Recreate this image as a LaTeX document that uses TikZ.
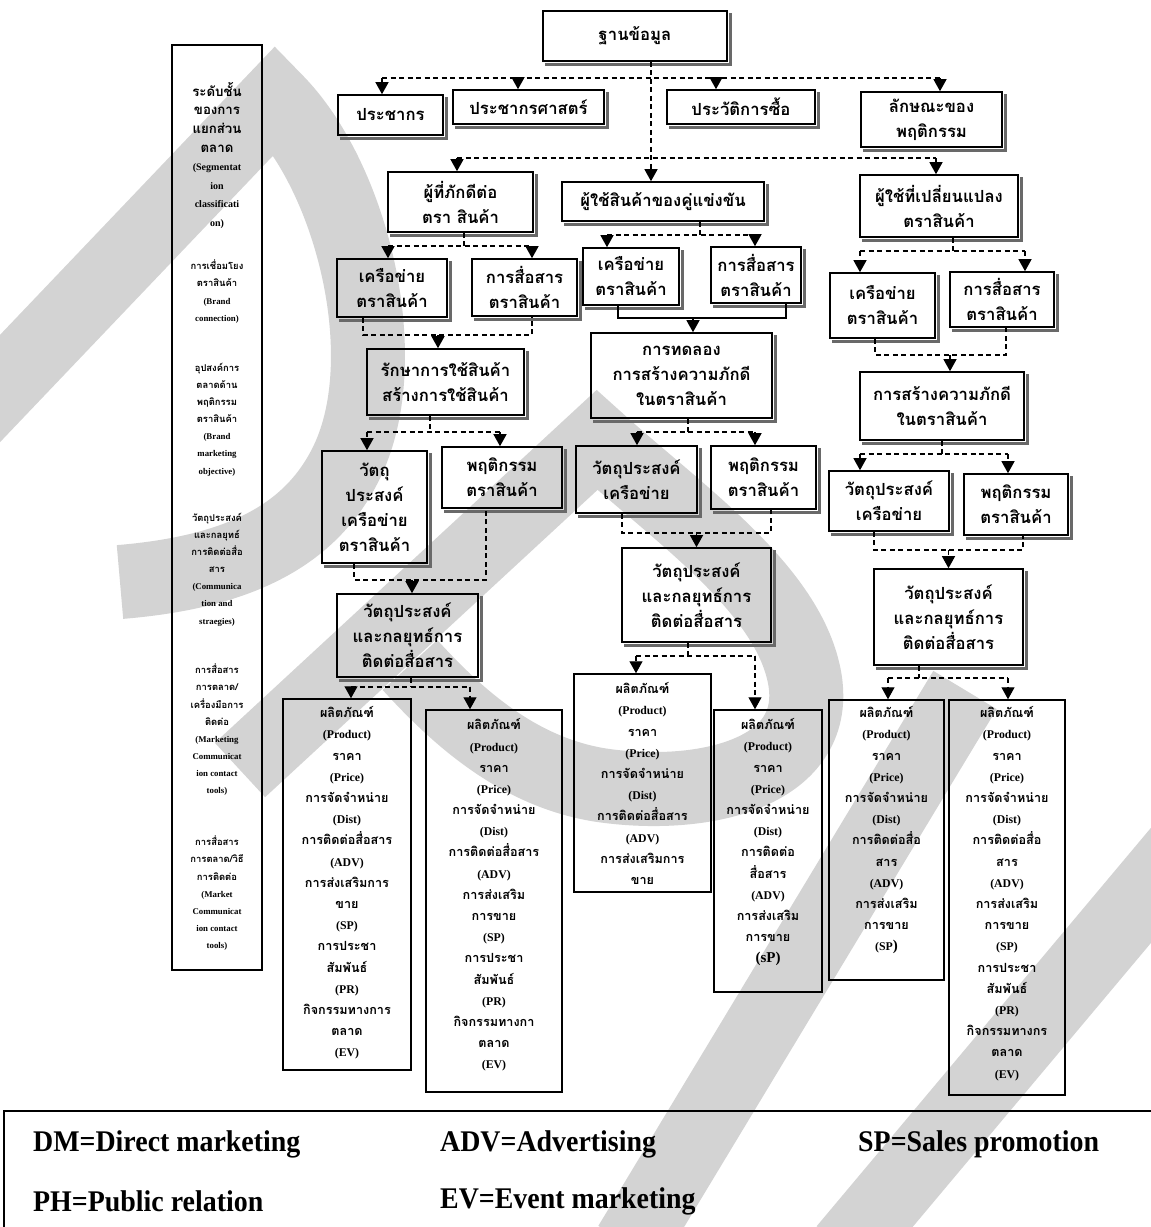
\documentclass[tikz,border=0pt]{standalone}
\usepackage{fontspec}
\setmainfont{Liberation Serif}
\newfontfamily\thf[Script=Thai,Scale=1.07]{Loma}
\usetikzlibrary{arrows.meta}
\definecolor{wm}{RGB}{211,211,211}
\definecolor{shd}{RGB}{105,105,105}
\newcommand{\thl}[1]{{\thf #1}}
\newcommand{\thb}[1]{{\fontsize{12.4}{18.6}\selectfont\thf #1}}
% parent -> two children through a dashed bus
\newcommand{\forktwo}[7]{%
  \coordinate (jj) at (0,#3);
  \draw[dl] ([xshift=#2pt]#1.south) -- ([xshift=#2pt]#1.south |- jj);
  \draw[dl] ([xshift=#5pt]#4.north |- jj) -- ([xshift=#7pt]#6.north |- jj);
  \draw[dl,arr] ([xshift=#5pt]#4.north |- jj) -- ([xshift=#5pt]#4.north);
  \draw[dl,arr] ([xshift=#7pt]#6.north |- jj) -- ([xshift=#7pt]#6.north);}
% two parents -> one child
\newcommand{\mergetwo}[8]{%
  \coordinate (jj) at (0,#5);
  \draw[#8] ([xshift=#2pt]#1.south) -- ([xshift=#2pt]#1.south |- jj) -- ([xshift=#4pt]#3.south |- jj) -- ([xshift=#4pt]#3.south);
  \draw[#8,arr] ([xshift=#7pt]#6.north |- jj) -- ([xshift=#7pt]#6.north);}
\begin{document}
\begin{tikzpicture}[x=1pt,y=-1pt,
  box/.style={draw=black, line width=1.6pt, inner sep=0pt, align=center,
    font=\thf\bfseries\fontsize{15.6}{25}\selectfont},
  plain/.style={draw=black, line width=1.5pt, inner sep=0pt},
  btxt/.style={inner sep=0pt, align=center, anchor=north,
    font=\bfseries\fontsize{11.8}{21.2}\selectfont},
  ctxta/.style={inner sep=0pt, align=center, anchor=north,
    font=\bfseries\fontsize{10}{18.6}\selectfont},
  ctxt/.style={inner sep=0pt, align=center, anchor=north,
    font=\bfseries\fontsize{8.8}{17.1}\selectfont},
  leg/.style={inner sep=0pt, anchor=west, font=\bfseries\fontsize{30}{30}\selectfont},
  dl/.style={line width=1.3pt, dash pattern=on 5pt off 3.5pt},
  sl/.style={line width=1.3pt},
  arr/.style={-{Triangle[width=13pt,length=12pt]}},
  shadowline/.style={draw=shd, line width=3pt},
  band/.style={draw=wm, line width=74pt, line join=miter},
]
\useasboundingbox (0,0) rectangle (1151,1227);
\fill[white] (0,0) rectangle (1151,1227);

% watermark bands
\draw[band] (-30,420) -- (275,100) .. controls (350,175) and (395,350) .. (350,455)
  .. controls (315,535) and (240,572) .. (120,582);
\draw[band] (240,770) -- (597,440) .. controls (680,515) and (790,590) .. (805,680)
  .. controls (820,775) and (700,800) .. (600,785) .. controls (520,772) and (460,720) .. (410,665);
\draw[band] (965,690) -- (630,1245);
\draw[band] (1210,815) -- (845,1250);

% level column
\node[plain, line width=1.7pt, minimum width=90pt, minimum height=925pt] (col) at (217,507.5) {};
\node[ctxta] (c1) at (217,82) {\thb{ระดับชั้น}\\\thb{ของการ}\\\thb{แยกส่วน}\\\thb{ตลาด}\\(Segmentat\\ion\\classificati\\on)};
\node[ctxt] (c2) at (217,260) {\thl{การเชื่อมโยง}\\\thl{ตราสินค้า}\\(Brand\\connection)};
\node[ctxt] (c3) at (217,363) {\thl{อุปสงค์การ}\\\thl{ตลาดด้าน}\\\thl{พฤติกรรม}\\\thl{ตราสินค้า}\\(Brand\\marketing\\objective)};
\node[ctxt] (c4) at (217,513) {\thl{วัตถุประสงค์}\\\thl{และกลยุทธ์}\\\thl{การติดต่อสื่อ}\\\thl{สาร}\\(Communica\\tion and\\straegies)};
\node[ctxt] (c5) at (217,664) {\thl{การสื่อสาร}\\\thl{การตลาด/}\\\thl{เครื่องมือการ}\\\thl{ติดต่อ}\\(Marketing\\Communicat\\ion contact\\tools)};
\node[ctxt] (c6) at (217,836) {\thl{การสื่อสาร}\\\thl{การตลาด/วิธี}\\\thl{การติดต่อ}\\(Market\\Communicat\\ion contact\\tools)};

% upper boxes
\node[box, minimum width=184pt, minimum height=50pt] (db) at (635,36) {ฐานข้อมูล};
\node[box, minimum width=105pt, minimum height=40pt] (pop) at (390.5,115) {ประชากร};
\node[box, minimum width=151pt, minimum height=34pt] (demo) at (528.5,107) {ประชากรศาสตร์};
\node[box, minimum width=148pt, minimum height=34pt] (hist) at (741,107) {ประวัติการซื้อ};
\node[box, minimum width=141pt, minimum height=55pt] (beh) at (931.5,119.5) {ลักษณะของ\\พฤติกรรม};
\node[box, minimum width=145pt, minimum height=60pt] (L0) at (460.5,202) {ผู้ที่ภักดีต่อ\\ตรา สินค้า};
\node[box, minimum width=202pt, minimum height=39pt] (M0) at (663,201.5) {ผู้ใช้สินค้าของคู่แข่งขัน};
\node[box, minimum width=158pt, minimum height=62pt] (R0) at (939,206) {ผู้ใช้ที่เปลี่ยนแปลง\\ตราสินค้า};
\node[box, minimum width=110pt, minimum height=58pt] (L1) at (392,288) {เครือข่าย\\ตราสินค้า};
\node[box, minimum width=105pt, minimum height=57pt] (L2) at (524.5,287.5) {การสื่อสาร\\ตราสินค้า};
\node[box, minimum width=96pt, minimum height=57pt] (M1) at (631,276.5) {เครือข่าย\\ตราสินค้า};
\node[box, minimum width=90pt, minimum height=56pt] (M2) at (756,275) {การสื่อสาร\\ตราสินค้า};
\node[box, minimum width=105pt, minimum height=65pt] (R1) at (882.5,305.5) {เครือข่าย\\ตราสินค้า};
\node[box, minimum width=104pt, minimum height=55pt] (R2) at (1002,299.5) {การสื่อสาร\\ตราสินค้า};
\node[box, minimum width=157pt, minimum height=66pt] (L3) at (445.5,382) {รักษาการใช้สินค้า\\สร้างการใช้สินค้า};
\node[box, minimum width=181pt, minimum height=85pt] (M3) at (681.5,375.5) {การทดลอง\\การสร้างความภักดี\\ในตราสินค้า};
\node[box, minimum width=164pt, minimum height=68pt] (R3) at (942,406) {การสร้างความภักดี\\ในตราสินค้า};
\node[box, minimum width=105pt, minimum height=112pt] (L4) at (374.5,507) {วัตถุ\\ประสงค์\\เครือข่าย\\ตราสินค้า};
\node[box, minimum width=120pt, minimum height=61pt] (L5) at (502,477.5) {พฤติกรรม\\ตราสินค้า};
\node[box, minimum width=121pt, minimum height=67pt] (M4) at (636.5,479.5) {วัตถุประสงค์\\เครือข่าย};
\node[box, minimum width=105pt, minimum height=63pt] (M5) at (763.5,477.5) {พฤติกรรม\\ตราสินค้า};
\node[box, minimum width=120pt, minimum height=60pt] (R4) at (889,501) {วัตถุประสงค์\\เครือข่าย};
\node[box, minimum width=104pt, minimum height=61pt] (R5) at (1016,504.5) {พฤติกรรม\\ตราสินค้า};
\node[box, minimum width=141pt, minimum height=83pt] (L6) at (407.5,635.5) {วัตถุประสงค์\\และกลยุทธ์การ\\ติดต่อสื่อสาร};
\node[box, minimum width=149pt, minimum height=94pt] (M6) at (696.5,595) {วัตถุประสงค์\\และกลยุทธ์การ\\ติดต่อสื่อสาร};
\node[box, minimum width=149pt, minimum height=96pt] (R6) at (948.5,617) {วัตถุประสงค์\\และกลยุทธ์การ\\ติดต่อสื่อสาร};

\foreach \n in {db,pop,demo,hist,beh,L0,M0,R0,L1,L2,M1,M2,R1,R2,L3,M3,R3,L4,L5,M4,M5,R4,R5,L6,M6,R6}
  \draw[shadowline] ([xshift=2.5pt,yshift=-3pt]\n.north east) -- ([xshift=2.5pt,yshift=-2.5pt]\n.south east)
    -- ([xshift=3pt,yshift=-2.5pt]\n.south west);

% tool boxes
\node[plain, minimum width=128pt, minimum height=371pt] (B1) at (347,884.5) {};
\node[plain, minimum width=136pt, minimum height=382pt] (B2) at (494,901) {};
\node[plain, minimum width=137pt, minimum height=218pt] (B3) at (642.5,783) {};
\node[plain, minimum width=108pt, minimum height=282pt] (B4) at (768,851) {};
\node[plain, minimum width=115pt, minimum height=280pt] (B5) at (886.5,840) {};
\node[plain, minimum width=116pt, minimum height=395pt] (B6) at (1007,897.5) {};

\node[btxt] (B1t) at (347,706.5) {\thl{ผลิตภัณฑ์}\\(Product)\\\thl{ราคา}\\(Price)\\\thl{การจัดจำหน่าย}\\(Dist)\\\thl{การติดต่อสื่อสาร}\\(ADV)\\\thl{การส่งเสริมการ}\\\thl{ขาย}\\(SP)\\\thl{การประชา}\\\thl{สัมพันธ์}\\(PR)\\\thl{กิจกรรมทางการ}\\\thl{ตลาด}\\(EV)};
\node[btxt] (B2t) at (494,718.5) {\thl{ผลิตภัณฑ์}\\(Product)\\\thl{ราคา}\\(Price)\\\thl{การจัดจำหน่าย}\\(Dist)\\\thl{การติดต่อสื่อสาร}\\(ADV)\\\thl{การส่งเสริม}\\\thl{การขาย}\\(SP)\\\thl{การประชา}\\\thl{สัมพันธ์}\\(PR)\\\thl{กิจกรรมทางกา}\\\thl{ตลาด}\\(EV)};
\node[btxt] (B3t) at (642.5,682.5) {\thl{ผลิตภัณฑ์}\\(Product)\\\thl{ราคา}\\(Price)\\\thl{การจัดจำหน่าย}\\(Dist)\\\thl{การติดต่อสื่อสาร}\\(ADV)\\\thl{การส่งเสริมการ}\\\thl{ขาย}};
\node[btxt] (B4t) at (768,718.5) {\thl{ผลิตภัณฑ์}\\(Product)\\\thl{ราคา}\\(Price)\\\thl{การจัดจำหน่าย}\\(Dist)\\\thl{การติดต่อ}\\\thl{สื่อสาร}\\(ADV)\\\thl{การส่งเสริม}\\\thl{การขาย}\\{\fontsize{15}{15}\selectfont (sP)}};
\node[btxt] (B5t) at (886.5,706.5) {\thl{ผลิตภัณฑ์}\\(Product)\\\thl{ราคา}\\(Price)\\\thl{การจัดจำหน่าย}\\(Dist)\\\thl{การติดต่อสื่อ}\\\thl{สาร}\\(ADV)\\\thl{การส่งเสริม}\\\thl{การขาย}\\(SP{\fontsize{15}{15}\selectfont )}};
\node[btxt] (B6t) at (1007,706.5) {\thl{ผลิตภัณฑ์}\\(Product)\\\thl{ราคา}\\(Price)\\\thl{การจัดจำหน่าย}\\(Dist)\\\thl{การติดต่อสื่อ}\\\thl{สาร}\\(ADV)\\\thl{การส่งเสริม}\\\thl{การขาย}\\(SP)\\\thl{การประชา}\\\thl{สัมพันธ์}\\(PR)\\\thl{กิจกรรมทางกร}\\\thl{ตลาด}\\(EV)};

% connectors
\coordinate (j1) at (0,78);
\coordinate (j2) at (0,158);
\draw[dl,arr] ([xshift=16pt]db.south) -- ([xshift=16pt]db.south |- M0.north);
\draw[dl] ([xshift=-8.5pt]pop.north |- j1) -- ([xshift=8.5pt]beh.north |- j1);
\foreach \n/\s in {pop/-8.5,demo/-10.5,hist/-25,beh/8.5}
  \draw[dl,arr] ([xshift=\s pt]\n.north |- j1) -- ([xshift=\s pt]\n.north);
\draw[dl] ([xshift=-3.5pt]L0.north |- j2) -- ([xshift=-3pt]R0.north |- j2);
\draw[dl,arr] ([xshift=-3.5pt]L0.north |- j2) -- ([xshift=-3.5pt]L0.north);
\draw[dl,arr] ([xshift=-3pt]R0.north |- j2) -- ([xshift=-3pt]R0.north);

\forktwo{L0}{3.5}{246}{L1}{-4}{L2}{7.5}
\forktwo{M0}{37}{235}{M1}{-24}{M2}{-1}
\forktwo{R0}{14}{251}{R1}{-22.5}{R2}{23}
\mergetwo{L1}{-29}{L2}{7.5}{335}{L3}{-7.5}{dl}
\mergetwo{M1}{-13}{M2}{30}{318}{M3}{11.5}{sl}
\mergetwo{R1}{-7.5}{R2}{4}{355}{R3}{8}{dl}
\forktwo{L3}{-15.5}{432}{L4}{-7.5}{L5}{-2}
\forktwo{M3}{6.5}{432}{M4}{0.5}{M5}{-8.5}
\forktwo{R3}{0}{454}{R4}{-29}{R5}{-8}
\mergetwo{L4}{-20.5}{L5}{-16}{580}{L6}{4.5}{dl}
\mergetwo{M4}{-14.5}{M5}{7.5}{533}{M6}{0}{dl}
\mergetwo{R4}{-15}{R5}{7}{550}{R6}{0}{dl}
\forktwo{L6}{3.5}{687}{B1}{4}{B2}{-24}
\forktwo{M6}{-8.5}{656}{B3}{-6.5}{B4}{-13}
\forktwo{R6}{-29.5}{678}{B5}{1.5}{B6}{1}

% abbreviations
\draw[line width=1.5pt] (1170,1111) -- (4,1111) -- (4,1240);
\node[leg] (lg1) at (33,1144) {\scalebox{0.93}[1]{DM=Direct marketing}};
\node[leg] (lg2) at (440,1144) {\scalebox{0.93}[1]{ADV=Advertising}};
\node[leg] (lg3) at (858,1144) {\scalebox{0.93}[1]{SP=Sales promotion}};
\node[leg] (lg4) at (33,1201) {\scalebox{0.93}[1]{PH=Public relation}};
\node[leg] (lg5) at (440,1201) {\scalebox{0.93}[1]{EV=Event marketing}};
\end{tikzpicture}
\end{document}
